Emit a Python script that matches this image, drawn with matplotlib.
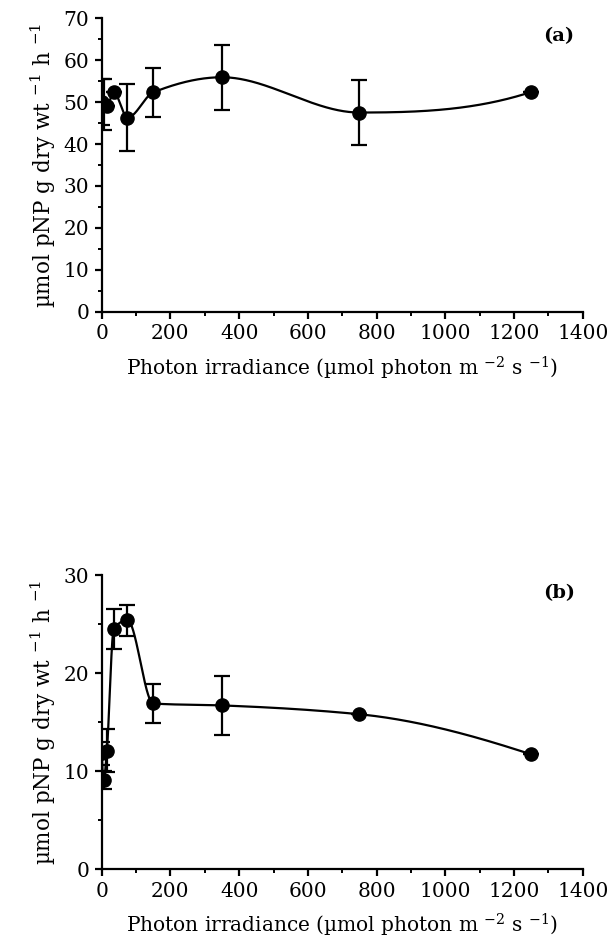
import numpy as np
import matplotlib
matplotlib.use("Agg")
import matplotlib.pyplot as plt
from matplotlib.ticker import MultipleLocator

plt.rcParams["font.family"] = ["DejaVu Serif"]
plt.rcParams["mathtext.fontset"] = "dejavuserif"

# photon irradiance (umol photon m-2 s-1)
irradiance = [0, 6, 15, 35, 75, 150, 350, 750, 1250]

# (a) activity, umol pNP g dry wt-1 h-1
act_a = [50.1, 49.4, 49.0, 52.3, 46.3, 52.3, 55.9, 47.5, 52.4]
err_a = [5.5, 6.0, 0, 0, 7.9, 5.8, 7.8, 7.7, 0]

# (b) activity
act_b = [11.8, 9.1, 12.1, 24.5, 25.4, 16.9, 16.7, 15.8, 11.7]
err_b = [1.2, 0.9, 2.2, 2.0, 1.6, 2.0, 3.0, 0, 0]


def pchip(x, y, xs):
    # monotone cubic hermite, used for the smoothed connecting line
    x = np.asarray(x, float)
    y = np.asarray(y, float)
    h = np.diff(x)
    d = np.diff(y) / h
    n = len(x)
    m = np.zeros(n)
    for k in range(1, n - 1):
        if d[k - 1] * d[k] > 0:
            w1 = 2 * h[k] + h[k - 1]
            w2 = h[k] + 2 * h[k - 1]
            m[k] = (w1 + w2) / (w1 / d[k - 1] + w2 / d[k])
    for i, (h0, h1, d0, d1) in ((0, (h[0], h[1], d[0], d[1])),
                                (n - 1, (h[-1], h[-2], d[-1], d[-2]))):
        e = ((2 * h0 + h1) * d0 - h0 * d1) / (h0 + h1)
        if np.sign(e) != np.sign(d0):
            e = 0.0
        elif np.sign(d0) != np.sign(d1) and abs(e) > 3 * abs(d0):
            e = 3 * d0
        m[i] = e
    idx = np.clip(np.searchsorted(x, xs) - 1, 0, n - 2)
    t = (xs - x[idx]) / h[idx]
    h00 = 2 * t**3 - 3 * t**2 + 1
    h10 = t**3 - 2 * t**2 + t
    h01 = -2 * t**3 + 3 * t**2
    h11 = t**3 - t**2
    return (h00 * y[idx] + h10 * h[idx] * m[idx]
            + h01 * y[idx + 1] + h11 * h[idx] * m[idx + 1])


fig = plt.figure(figsize=(6.09, 9.51), dpi=100)
ax_a = fig.add_axes([0.167, 0.672, 0.790, 0.309])
ax_b = fig.add_axes([0.167, 0.0862, 0.790, 0.309])

xs = np.linspace(0, 1250, 1500)
ylabel = "µmol pNP g dry wt $^{-1}$ h $^{-1}$"
xlabel = "Photon irradiance (µmol photon m $^{-2}$ s $^{-1}$)"

panels = [
    (ax_a, act_a, err_a, 70, 10, "(a)"),
    (ax_b, act_b, err_b, 30, 10, "(b)"),
]
for ax, act, err, ymax, ystep, tag in panels:
    ax.plot(xs, pchip(irradiance, act, xs), color="black", lw=1.6)
    ax.errorbar(irradiance, act, yerr=err, fmt="o", color="black",
                markersize=9.5, elinewidth=1.6, capsize=6, capthick=1.6)
    ax.set_xlim(0, 1400)
    ax.set_ylim(0, ymax)
    ax.xaxis.set_major_locator(MultipleLocator(200))
    ax.xaxis.set_minor_locator(MultipleLocator(100))
    ax.yaxis.set_major_locator(MultipleLocator(ystep))
    ax.yaxis.set_minor_locator(MultipleLocator(ystep / 2))
    for side in ("top", "right"):
        ax.spines[side].set_visible(False)
    for side in ("left", "bottom"):
        ax.spines[side].set_linewidth(1.6)
    ax.tick_params(which="major", direction="out", length=5, width=1.6,
                   labelsize=14.5, pad=4)
    ax.tick_params(which="minor", direction="out", length=3, width=1.4)
    ax.set_xlabel(xlabel, fontsize=14.5, labelpad=8)
    ax.set_ylabel(ylabel, fontsize=15.5, labelpad=4)
    ax.text(0.95, 0.94, tag, transform=ax.transAxes, fontsize=14,
            fontweight="bold", ha="center", va="center")

fig.savefig("out.png", dpi=100)
